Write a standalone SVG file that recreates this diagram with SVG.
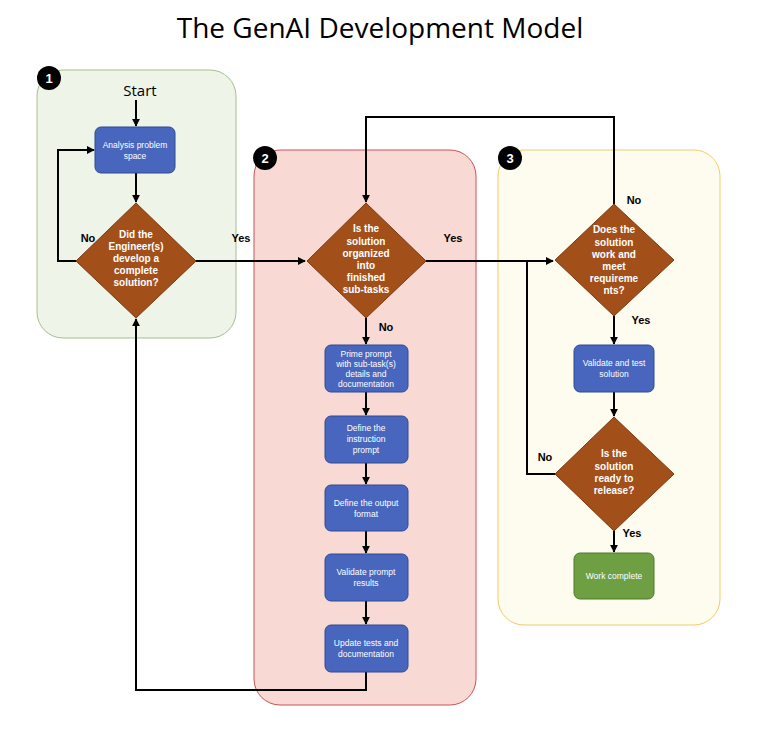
<svg xmlns="http://www.w3.org/2000/svg" width="760" height="748" viewBox="0 0 760 748">
<style>
text{font-family:"Liberation Sans",Arial,sans-serif}
.box{fill:#4866bd;stroke:#2f4a94;stroke-width:1}
.dia{fill:#a34f1a;stroke:#7a3a12;stroke-width:1}
.bt{fill:#fff;font-size:8.5px;text-anchor:middle}
.dt{fill:#fff;font-size:10px;font-weight:bold;text-anchor:middle}
.lbl{fill:#000;font-size:11px;font-weight:bold;text-anchor:middle}
.con{fill:none;stroke:#000;stroke-width:2}
.badge{fill:#000}
.bn{fill:#fff;font-size:13px;font-weight:bold;text-anchor:middle}
</style>
<defs><marker id="ar" viewBox="0 0 10 10" refX="9" refY="5" markerWidth="4" markerHeight="4" orient="auto"><path d="M0,0L10,5L0,10z" fill="#000"/></marker></defs>
<rect width="760" height="748" fill="#fff"/>
<text x="380" y="38" font-size="28" text-anchor="middle" style="font-family:'Open Sans',sans-serif">The GenAI Development Model</text>
<g id="panel1"><rect x="37" y="70" width="199" height="268" rx="26" fill="#eef4e7" stroke="#a7c08b"/><circle cx="49" cy="78" r="12" class="badge"/><text x="49" y="83" class="bn">1</text></g>
<g id="panel2"><rect x="254" y="150" width="222" height="555" rx="26" fill="#f9d9d3" stroke="#c8525a"/><circle cx="265" cy="158" r="12" class="badge"/><text x="265" y="163" class="bn">2</text></g>
<g id="panel3"><rect x="498" y="150" width="222" height="475" rx="26" fill="#fefcee" stroke="#f2cb68"/><circle cx="510" cy="158" r="12" class="badge"/><text x="510" y="163" class="bn">3</text></g>
<g id="connectors">
<path class="con" marker-end="url(#ar)" d="M136,100V126"/>
<path class="con" marker-end="url(#ar)" d="M136,173V202"/>
<path class="con" marker-end="url(#ar)" d="M76,261H58V150H94"/>
<path class="con" marker-end="url(#ar)" d="M196,261H305"/>
<path class="con" marker-end="url(#ar)" d="M426,261H553"/>
<path class="con" marker-end="url(#ar)" d="M614,204V117H366V202"/>
<path class="con" marker-end="url(#ar)" d="M366,318V344"/>
<path class="con" marker-end="url(#ar)" d="M366,392V415"/>
<path class="con" marker-end="url(#ar)" d="M366,463V484"/>
<path class="con" marker-end="url(#ar)" d="M366,531V553"/>
<path class="con" marker-end="url(#ar)" d="M366,601V624"/>
<path class="con" marker-end="url(#ar)" d="M366,672V690H136V319"/>
<path class="con" marker-end="url(#ar)" d="M614,316V344"/>
<path class="con" marker-end="url(#ar)" d="M614,392V416"/>
<path class="con" d="M555,474H527V261"/>
<path class="con" marker-end="url(#ar)" d="M614,531V552"/>
</g>
<g id="labels">
<text x="88" y="242" class="lbl">No</text><text x="241" y="242" class="lbl">Yes</text>
<text x="453" y="242" class="lbl">Yes</text><text x="386" y="331" class="lbl">No</text>
<text x="634" y="204" class="lbl">No</text><text x="641" y="324" class="lbl">Yes</text>
<text x="545" y="461" class="lbl">No</text><text x="632" y="537" class="lbl">Yes</text>
</g>
<text x="140" y="96" font-size="15" text-anchor="middle" style="font-family:'Open Sans',sans-serif">Start</text>
<g id="n1"><rect x="95" y="127" width="80" height="46" rx="6" class="box"/><text class="bt" x="135" y="148">Analysis problem</text><text class="bt" x="135" y="159">space</text></g>
<g id="d1"><path class="dia" d="M136,203L196,261L136,318L76,261z"/><text class="dt" x="136" y="238">Did the</text><text class="dt" x="136" y="250">Engineer(s)</text><text class="dt" x="136" y="262">develop a</text><text class="dt" x="136" y="274">complete</text><text class="dt" x="136" y="286">solution?</text></g>
<g id="d2"><path class="dia" d="M366,203L426,261L366,318L307,261z"/><text class="dt" x="366" y="232">Is the</text><text class="dt" x="366" y="245">solution</text><text class="dt" x="366" y="257">organized</text><text class="dt" x="366" y="269">into</text><text class="dt" x="366" y="281">finished</text><text class="dt" x="366" y="293">sub-tasks</text></g>
<g id="n2"><rect x="325" y="345" width="83" height="47" rx="6" class="box"/><text class="bt" x="366" y="357">Prime prompt</text><text class="bt" x="366" y="367">with  sub-task(s)</text><text class="bt" x="366" y="377">details and</text><text class="bt" x="366" y="387">documentation</text></g>
<g id="n3"><rect x="325" y="416" width="83" height="47" rx="6" class="box"/><text class="bt" x="366" y="431">Define the</text><text class="bt" x="366" y="442">instruction</text><text class="bt" x="366" y="453">prompt</text></g>
<g id="n4"><rect x="325" y="485" width="83" height="46" rx="6" class="box"/><text class="bt" x="366" y="506">Define the output</text><text class="bt" x="366" y="517">format</text></g>
<g id="n5"><rect x="325" y="554" width="83" height="47" rx="6" class="box"/><text class="bt" x="366" y="575">Validate prompt</text><text class="bt" x="366" y="586">results</text></g>
<g id="n6"><rect x="325" y="625" width="83" height="47" rx="6" class="box"/><text class="bt" x="366" y="646">Update tests and</text><text class="bt" x="366" y="657">documentation</text></g>
<g id="d3"><path class="dia" d="M614,204L674,260L614,316L555,260z"/><text class="dt" x="614" y="233">Does the</text><text class="dt" x="614" y="246">solution</text><text class="dt" x="614" y="258">work and</text><text class="dt" x="614" y="270">meet</text><text class="dt" x="614" y="282">requireme</text><text class="dt" x="614" y="294">nts?</text></g>
<g id="n7"><rect x="574" y="345" width="80" height="47" rx="6" class="box"/><text class="bt" x="614" y="366">Validate and test</text><text class="bt" x="614" y="377">solution</text></g>
<g id="d4"><path class="dia" d="M614,417L674,474L614,531L555,474z"/><text class="dt" x="614" y="457">Is the</text><text class="dt" x="614" y="470">solution</text><text class="dt" x="614" y="482">ready to</text><text class="dt" x="614" y="494">release?</text></g>
<g id="n8"><rect x="574" y="553" width="80" height="46" rx="6" fill="#6f9f43" stroke="#4f7a2c"/><text class="bt" x="614" y="579">Work complete</text></g>
</svg>
